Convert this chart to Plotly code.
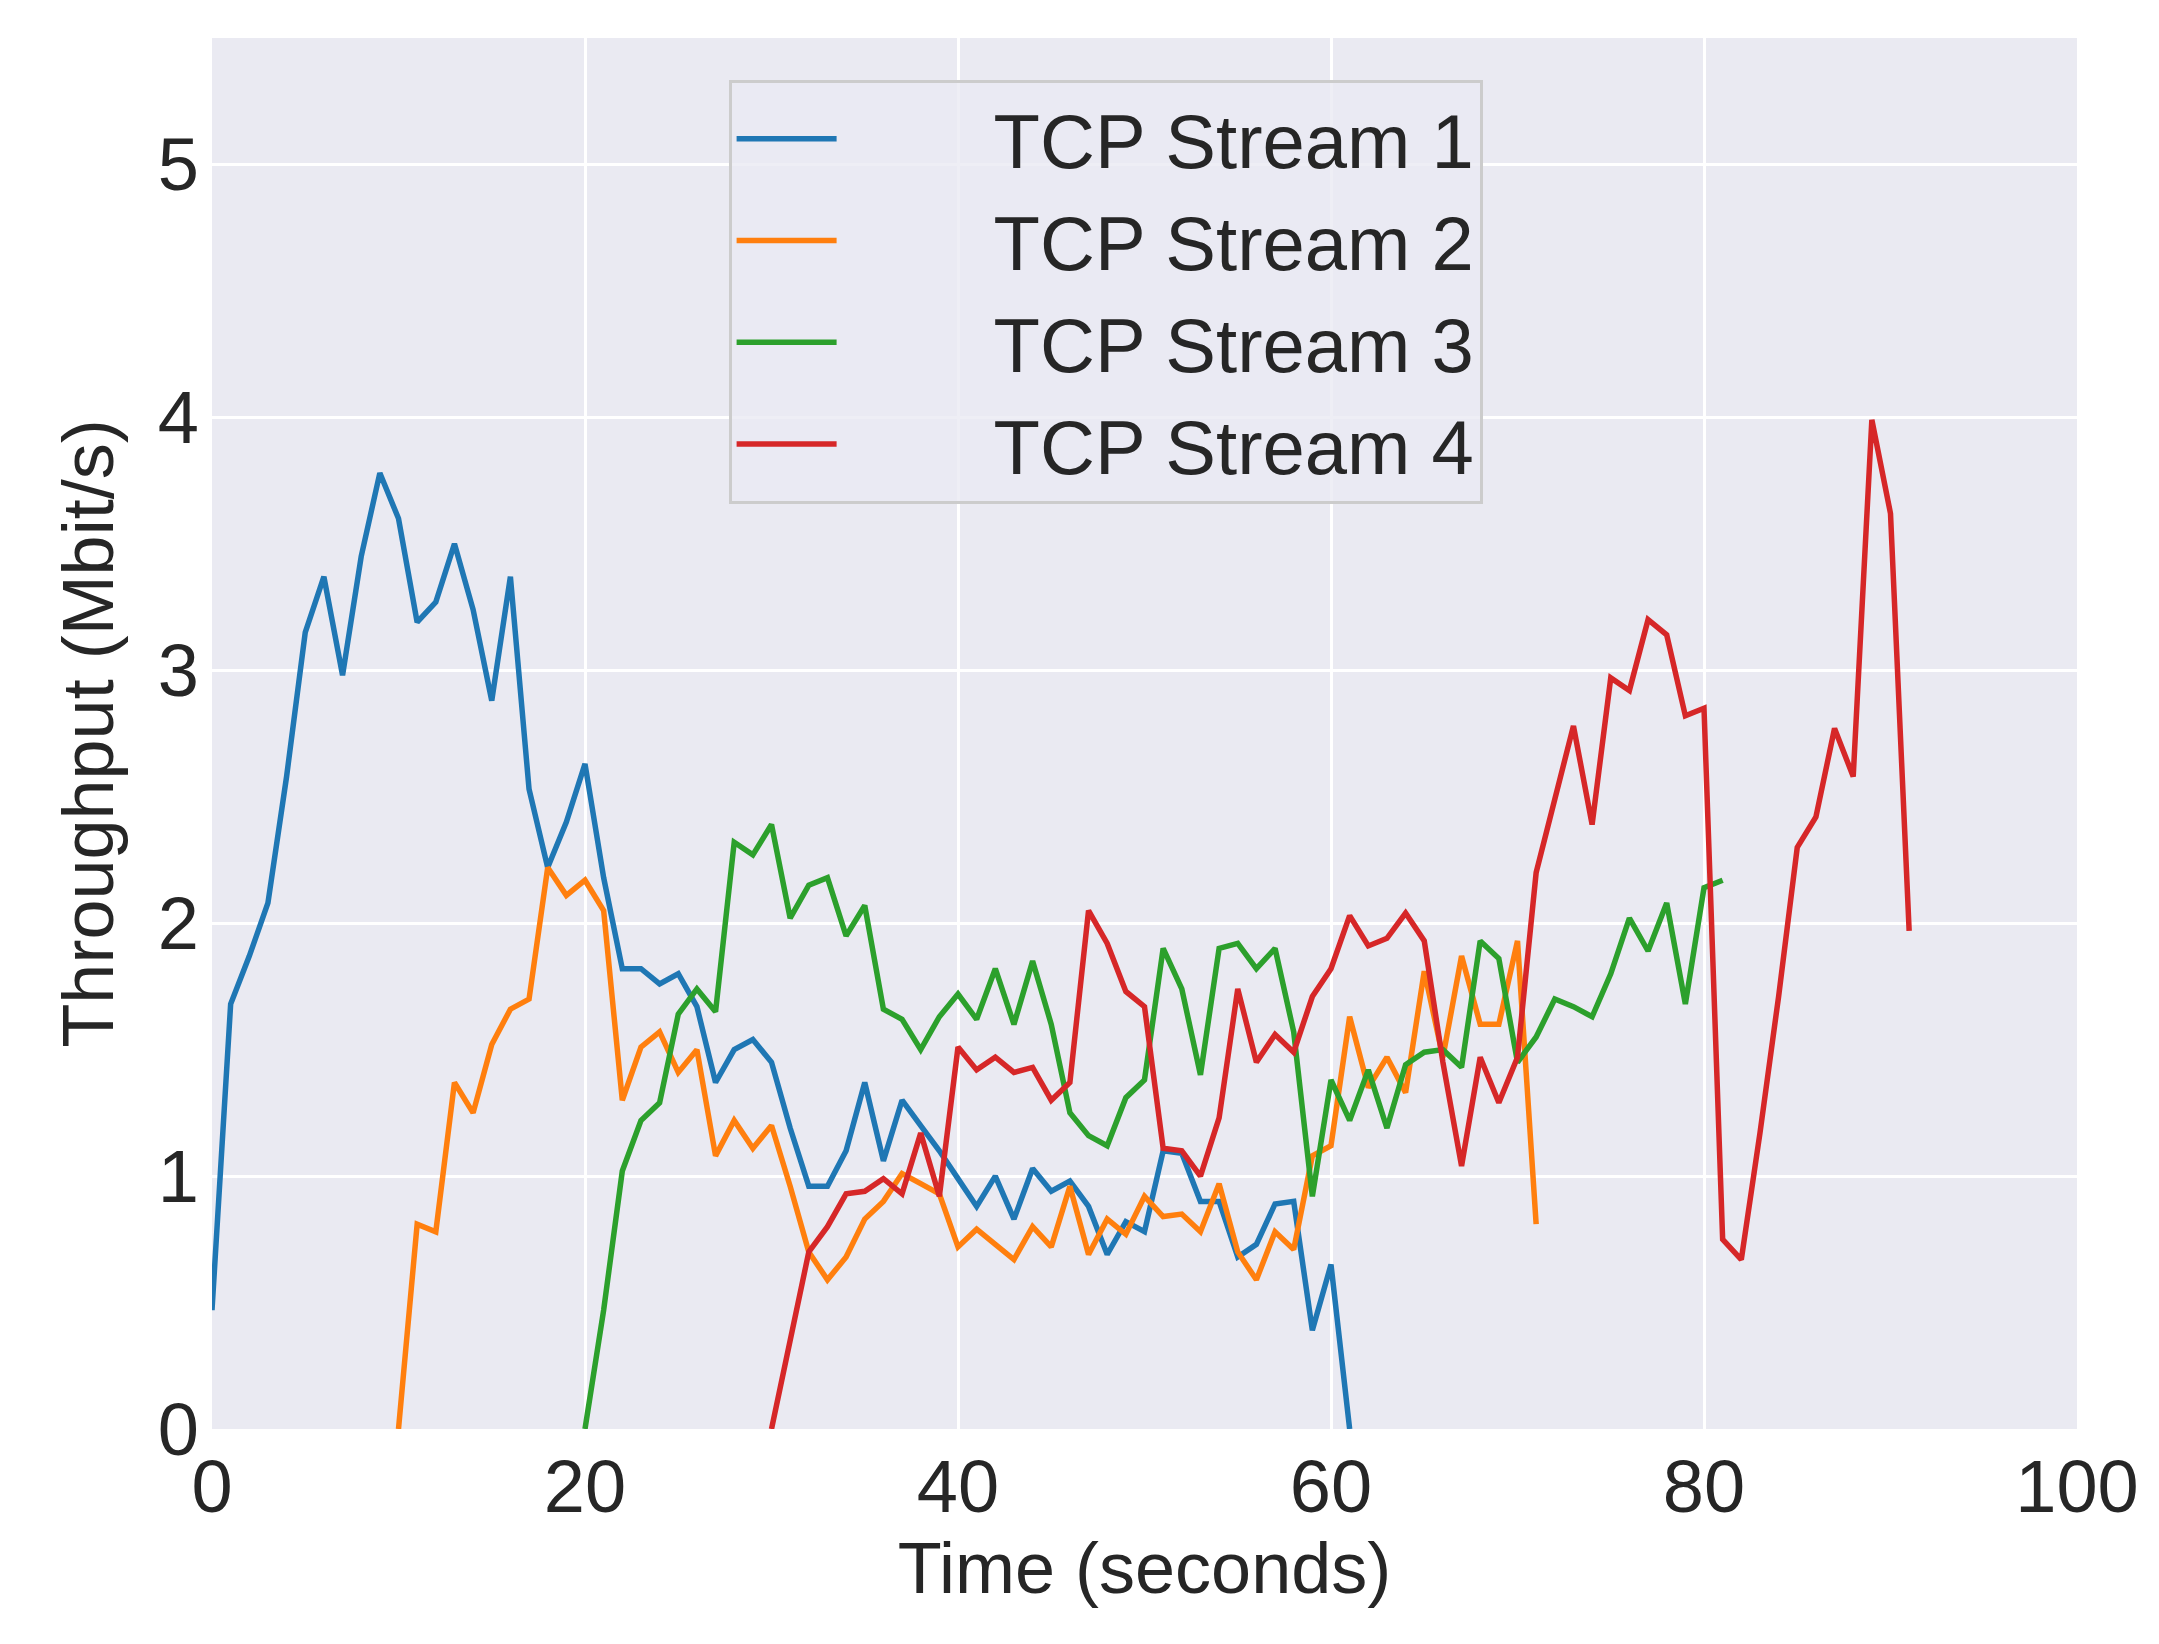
import plotly.graph_objects as go

# throughput per second, Mbit/s
t1 = list(range(0, 62))
s1 = [0.47, 1.68, 1.87, 2.08, 2.58, 3.15, 3.37, 2.98, 3.45, 3.78, 3.6, 3.19, 3.27, 3.5, 3.24, 2.88,
      3.37, 2.53, 2.22, 2.4, 2.63, 2.18, 1.82, 1.82, 1.76, 1.8, 1.67, 1.37, 1.5, 1.54, 1.45, 1.19,
      0.96, 0.96, 1.1, 1.37, 1.06, 1.3, 1.2, 1.1, 0.99, 0.88, 1.0, 0.83, 1.03, 0.94, 0.98, 0.88,
      0.69, 0.82, 0.78, 1.1, 1.09, 0.9, 0.9, 0.68, 0.73, 0.89, 0.9, 0.39, 0.65, 0.0]

t2 = list(range(10, 72))
s2 = [0.0, 0.81, 0.78, 1.37, 1.25, 1.52, 1.66, 1.7, 2.22, 2.11, 2.17, 2.05, 1.3, 1.51, 1.57, 1.41,
      1.5, 1.08, 1.22, 1.11, 1.2, 0.96, 0.7, 0.59, 0.68, 0.83, 0.9, 1.01, 0.97, 0.93, 0.72, 0.79,
      0.73, 0.67, 0.8, 0.72, 0.96, 0.69, 0.83, 0.77, 0.92, 0.84, 0.85, 0.78, 0.97, 0.7, 0.59, 0.78,
      0.71, 1.08, 1.12, 1.63, 1.35, 1.47, 1.33, 1.81, 1.47, 1.87, 1.6, 1.6, 1.93, 0.81]

t3 = list(range(20, 82))
s3 = [0.0, 0.47, 1.02, 1.22, 1.29, 1.64, 1.74, 1.65, 2.32, 2.27, 2.39, 2.02, 2.15, 2.18, 1.95, 2.07,
      1.66, 1.62, 1.5, 1.63, 1.72, 1.62, 1.82, 1.6, 1.85, 1.6, 1.25, 1.16, 1.12, 1.31, 1.38, 1.9,
      1.74, 1.4, 1.9, 1.92, 1.82, 1.9, 1.57, 0.92, 1.38, 1.22, 1.42, 1.19, 1.44, 1.49, 1.5, 1.43,
      1.93, 1.86, 1.45, 1.55, 1.7, 1.67, 1.63, 1.8, 2.02, 1.89, 2.08, 1.68, 2.14, 2.17]

t4 = list(range(30, 92))
s4 = [0.0, 0.35, 0.7, 0.8, 0.93, 0.94, 0.99, 0.93, 1.17, 0.92, 1.51, 1.42, 1.47, 1.41, 1.43, 1.3,
      1.37, 2.05, 1.92, 1.73, 1.67, 1.11, 1.1, 1.0, 1.23, 1.74, 1.45, 1.56, 1.49, 1.71, 1.82, 2.03,
      1.91, 1.94, 2.04, 1.93, 1.45, 1.04, 1.47, 1.29, 1.47, 2.2, 2.5, 2.78, 2.39, 2.97, 2.92, 3.2,
      3.14, 2.82, 2.85, 0.75, 0.67, 1.17, 1.71, 2.3, 2.42, 2.77, 2.58, 3.99, 3.62, 1.97]

names = ["TCP Stream 1", "TCP Stream 2", "TCP Stream 3", "TCP Stream 4"]
colors = ["#1f77b4", "#ff7f0e", "#2ca02c", "#d62728"]

fig = go.Figure()
for x, y, n, c in zip([t1, t2, t3, t4], [s1, s2, s3, s4], names, colors):
    fig.add_trace(go.Scatter(x=x, y=y, mode="lines", name="\u2003\u2003" + n,
                             line=dict(color=c, width=5.5)))

axis_style = dict(showgrid=True, gridcolor="white", gridwidth=2.5, zeroline=False,
                  showline=False, ticks="", tickfont=dict(size=74, color="#262626"),
                  title_font=dict(size=72, color="#262626"))

fig.update_xaxes(range=[0, 100], dtick=20, title_text="Time (seconds)",
                 ticklabelstandoff=8, **axis_style)
fig.update_yaxes(range=[0, 5.5], tickvals=[0, 1, 2, 3, 4, 5], ticklabelstandoff=12,
                 title_text="Throughput (Mbit/s)", title_standoff=20, **axis_style)

fig.update_layout(
    width=2159, height=1644,
    font=dict(family="Liberation Sans, Arial, sans-serif", color="#262626"),
    paper_bgcolor="white", plot_bgcolor="#eaeaf2",
    margin=dict(l=204, r=90, t=30, b=223),
    legend=dict(x=0.277, y=0.97, xanchor="left", yanchor="top",
                bgcolor="rgba(234,234,242,0.8)", bordercolor="#cccccc", borderwidth=3,
                font=dict(size=76, color="#262626"), itemwidth=100, tracegroupgap=0),
)

fig.write_html("out.html")
